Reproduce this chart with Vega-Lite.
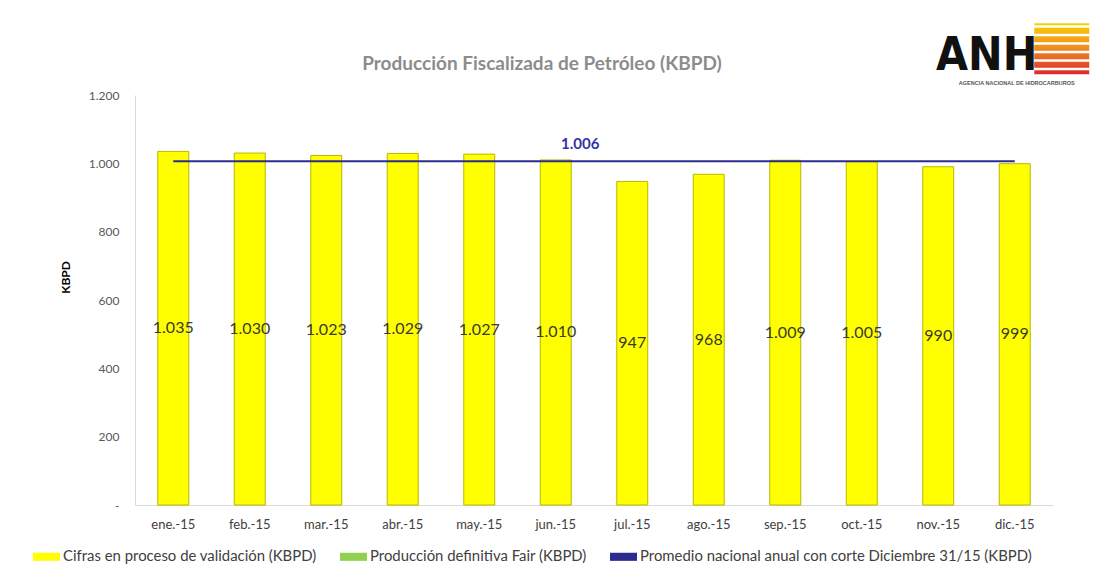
{
  "$schema": "https://vega.github.io/schema/vega-lite/v6.json",
  "width": 918,
  "height": 410,
  "autosize": {"type": "none"},
  "padding": {"left": 135, "top": 95, "right": 45, "bottom": 62},
  "background": "white",
  "config": {"view": {"stroke": null}, "font": "Lato"},
  "title": {
    "text": "Producción Fiscalizada de Petróleo (KBPD)",
    "fontSize": 19,
    "font": "Lato",
    "fontWeight": "bold",
    "color": "#8c8c8c",
    "anchor": "middle",
    "baseline": "bottom",
    "dx": -52,
    "dy": 96,
    "offset": 0
  },
  "datasets": {
    "meses": [
      {"mes": "ene.-15", "valor": 1035, "etiqueta": "1.035", "serie": "Cifras en proceso de validación (KBPD)"},
      {"mes": "feb.-15", "valor": 1030, "etiqueta": "1.030", "serie": "Cifras en proceso de validación (KBPD)"},
      {"mes": "mar.-15", "valor": 1023, "etiqueta": "1.023", "serie": "Cifras en proceso de validación (KBPD)"},
      {"mes": "abr.-15", "valor": 1029, "etiqueta": "1.029", "serie": "Cifras en proceso de validación (KBPD)"},
      {"mes": "may.-15", "valor": 1027, "etiqueta": "1.027", "serie": "Cifras en proceso de validación (KBPD)"},
      {"mes": "jun.-15", "valor": 1010, "etiqueta": "1.010", "serie": "Cifras en proceso de validación (KBPD)"},
      {"mes": "jul.-15", "valor": 947, "etiqueta": "947", "serie": "Cifras en proceso de validación (KBPD)"},
      {"mes": "ago.-15", "valor": 968, "etiqueta": "968", "serie": "Cifras en proceso de validación (KBPD)"},
      {"mes": "sep.-15", "valor": 1009, "etiqueta": "1.009", "serie": "Cifras en proceso de validación (KBPD)"},
      {"mes": "oct.-15", "valor": 1005, "etiqueta": "1.005", "serie": "Cifras en proceso de validación (KBPD)"},
      {"mes": "nov.-15", "valor": 990, "etiqueta": "990", "serie": "Cifras en proceso de validación (KBPD)"},
      {"mes": "dic.-15", "valor": 999, "etiqueta": "999", "serie": "Cifras en proceso de validación (KBPD)"}
    ],
    "promedio": [
      {"desde": "ene.-15", "hasta": "dic.-15", "centro": "jun.-15", "valor": 1006, "etiqueta": "1.006", "serie": "Promedio nacional anual con corte Diciembre 31/15 (KBPD)"}
    ],
    "logo": [
      {"mes": "dic.-15", "sigla": "ANH", "nombre": "AGENCIA NACIONAL DE HIDROCARBUROS"}
    ]
  },
  "resolve": {"scale": {"y": "independent"}},
  "layer": [
    {
      "layer": [
        {
          "data": {"name": "meses"},
          "mark": {"type": "bar", "stroke": "#b8b800", "strokeWidth": 1},
          "encoding": {
            "x": {
              "field": "mes", "type": "nominal", "sort": null,
              "scale": {"paddingInner": 0.595, "paddingOuter": 0.2975},
              "axis": {"title": null, "labelAngle": 0, "ticks": false, "domainColor": "#d9d9d9", "labelPadding": 13, "labelFontSize": 13, "labelColor": "#404040", "labelFont": "Lato"}
            },
            "y": {
              "field": "valor", "type": "quantitative",
              "scale": {"domain": [0, 1200], "nice": false},
              "axis": {
                "values": [0, 200, 400, 600, 800, 1000, 1200],
                "labelExpr": "datum.value === 0 ? '-' : replace(format(datum.value, ','), ',', '.')",
                "ticks": false, "grid": false, "domainColor": "#d9d9d9",
                "labelPadding": 16, "labelFontSize": 12, "labelColor": "#595959", "labelFont": "Lato",
                "title": "KBPD", "titleFontWeight": "bold", "titleFontSize": 12, "titleColor": "#000000", "titleFont": "Lato",
                "titleX": -70, "titleY": 182, "titleAlign": "center", "titleBaseline": "middle"
              }
            },
            "color": {
              "field": "serie", "type": "nominal",
              "scale": {
                "domain": ["Cifras en proceso de validación (KBPD)", "Producción definitiva Fair (KBPD)", "Promedio nacional anual con corte Diciembre 31/15 (KBPD)"],
                "range": ["#ffff00", "#92d050", "#2c2c90"]
              },
              "legend": {
                "orient": "none", "legendX": -102, "legendY": 448, "direction": "horizontal", "title": null,
                "symbolType": "M-1,-0.3H1V0.3H-1Z", "symbolSize": 729, "symbolStrokeWidth": 0,
                "labelFontSize": 14.9, "labelColor": "#404040", "labelFont": "Lato", "labelOffset": 3, "labelLimit": 600, "columnPadding": 23,
                "encode": {"symbols": {"update": {"shape": {"signal": "indexof(datum.value, 'Promedio') === 0 ? 'M-1,-0.06H1V0.06H-1Z' : 'M-1,-0.3H1V0.3H-1Z'"}}}}
              }
            }
          }
        },
        {
          "data": {"name": "promedio"},
          "mark": {"type": "rule", "strokeWidth": 2},
          "encoding": {
            "x": {"field": "desde", "type": "nominal", "sort": null, "bandPosition": 0.5},
            "x2": {"field": "hasta", "bandPosition": 0.5},
            "y": {"field": "valor", "type": "quantitative"},
            "color": {"field": "serie", "type": "nominal"}
          }
        },
        {
          "data": {"name": "promedio"},
          "mark": {"type": "text", "fontSize": 15, "fontWeight": "bold", "color": "#3333a8", "font": "Lato", "dx": 9, "dy": -17, "baseline": "middle"},
          "encoding": {
            "x": {"field": "centro", "type": "nominal", "sort": null, "bandPosition": 1},
            "y": {"field": "valor", "type": "quantitative"},
            "text": {"field": "etiqueta"}
          }
        },
        {
          "data": {"name": "logo"},
          "mark": {
            "type": "rect", "width": 55, "xOffset": 47,
            "fill": {"gradient": "linear", "x1": 0, "y1": 0, "x2": 0, "y2": 1, "stops": [{"offset": 0, "color": "#f8d200"}, {"offset": 0.5, "color": "#f08a20"}, {"offset": 1, "color": "#e02a2a"}]}
          },
          "encoding": {
            "x": {"field": "mes", "type": "nominal", "sort": null},
            "y": {"datum": 1410},
            "y2": {"datum": 1261}
          }
        },
        {
          "data": {"name": "logo"},
          "mark": {"type": "rule", "stroke": "#ffffff", "strokeWidth": 57, "strokeDash": [2.5, 6], "xOffset": 47},
          "encoding": {
            "x": {"field": "mes", "type": "nominal", "sort": null, "bandPosition": 0.5},
            "y": {"datum": 1404},
            "y2": {"datum": 1261}
          }
        },
        {
          "data": {"name": "logo"},
          "mark": {"type": "text", "fontSize": 46, "fontWeight": "bold", "color": "#111111", "font": "'DejaVu Sans Condensed', 'Liberation Sans', sans-serif", "dx": -28, "baseline": "alphabetic"},
          "encoding": {
            "x": {"field": "mes", "type": "nominal", "sort": null},
            "y": {"datum": 1272},
            "text": {"field": "sigla"}
          }
        },
        {
          "data": {"name": "logo"},
          "mark": {"type": "text", "fontSize": 5.5, "fontWeight": "bold", "color": "#555555", "font": "Liberation Sans", "dx": 2, "baseline": "middle"},
          "encoding": {
            "x": {"field": "mes", "type": "nominal", "sort": null},
            "y": {"datum": 1234},
            "text": {"field": "nombre"}
          }
        }
      ]
    },
    {
      "data": {"name": "meses"},
      "mark": {"type": "text", "fontSize": 16, "color": "#3a3a2a", "font": "Lato", "baseline": "middle"},
      "encoding": {
        "x": {"field": "mes", "type": "nominal", "sort": null},
        "y": {"field": "valor", "type": "quantitative", "scale": {"domain": [0, 2400], "nice": false}, "axis": null},
        "text": {"field": "etiqueta"}
      }
    }
  ]
}
